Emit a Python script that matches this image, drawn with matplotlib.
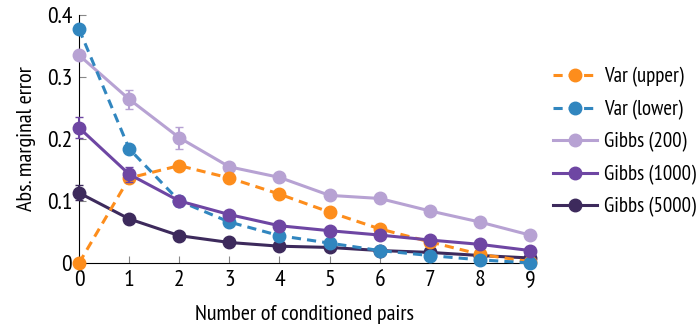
import matplotlib
matplotlib.use("Agg")
import matplotlib.pyplot as plt
from matplotlib.container import ErrorbarContainer
import numpy as np

plt.rcParams['font.family'] = ['PT Sans Narrow', 'DejaVu Sans']

x = np.arange(10)
var_upper = [0.0, 0.137, 0.157, 0.137, 0.111, 0.082, 0.055, 0.034, 0.014, 0.002]
var_lower = [0.377, 0.184, 0.100, 0.066, 0.044, 0.032, 0.020, 0.012, 0.005, 0.000]
gibbs200 = [0.335, 0.264, 0.202, 0.155, 0.138, 0.109, 0.104, 0.084, 0.066, 0.045]
gibbs200_err = [0.006, 0.015, 0.018, 0.006, 0.004, 0.003, 0.003, 0.003, 0.003, 0.003]
gibbs1000 = [0.218, 0.143, 0.100, 0.078, 0.060, 0.052, 0.045, 0.037, 0.030, 0.020]
gibbs1000_err = [0.017, 0.012, 0.008, 0.004, 0.003, 0.002, 0.002, 0.002, 0.002, 0.002]
gibbs5000 = [0.113, 0.071, 0.044, 0.033, 0.027, 0.025, 0.020, 0.017, 0.012, 0.008]
gibbs5000_err = [0.012, 0.004, 0.003, 0.002, 0.002, 0.002, 0.002, 0.002, 0.002, 0.002]

c_orange = '#fd8d1c'
c_blue = '#3186bf'
c_light = '#b7a2d3'
c_mid = '#6e46a3'
c_dark = '#3d2a5c'

fig = plt.figure(figsize=(7, 3.32), dpi=100)
ax = fig.add_axes([0.113, 0.208, 0.644, 0.747])

lw = 2.2
ms = 9
ax.errorbar(x, gibbs200, yerr=gibbs200_err, color=c_light, lw=lw, marker='o', ms=ms,
            capsize=3, elinewidth=1.5, label='Gibbs (200)', clip_on=False, zorder=3)
ax.errorbar(x, gibbs5000, yerr=gibbs5000_err, color=c_dark, lw=lw, marker='o', ms=ms,
            capsize=3, elinewidth=1.5, label='Gibbs (5000)', clip_on=False, zorder=3)
ax.plot(x, var_upper, color=c_orange, lw=lw, ls=(0, (3, 2)), marker='o', ms=ms,
        label='Var (upper)', clip_on=False, zorder=4)
ax.plot(x, var_lower, color=c_blue, lw=lw, ls=(0, (3, 2)), marker='o', ms=ms,
        label='Var (lower)', clip_on=False, zorder=4)
ax.errorbar(x, gibbs1000, yerr=gibbs1000_err, color=c_mid, lw=lw, marker='o', ms=ms,
            capsize=3, elinewidth=1.5, label='Gibbs (1000)', clip_on=False, zorder=5)

ax.set_xlim(0, 9)
ax.set_ylim(0, 0.4)
ax.set_xticks(range(10))
ax.set_yticks([0, 0.1, 0.2, 0.3, 0.4])
ax.set_yticklabels(['0', '0.1', '0.2', '0.3', '0.4'])
ax.tick_params(direction='in', labelsize=17, length=5, color='#888888', pad=5)
for s in ['top', 'right']:
    ax.spines[s].set_visible(False)
ax.set_xlabel('Number of conditioned pairs', fontsize=16, labelpad=10)
ax.set_ylabel('Abs. marginal error', fontsize=16, labelpad=8)

handles, labels = ax.get_legend_handles_labels()
order = ['Var (upper)', 'Var (lower)', 'Gibbs (200)', 'Gibbs (1000)', 'Gibbs (5000)']
hmap = {}
for h, l in zip(handles, labels):
    hmap[l] = h[0] if isinstance(h, ErrorbarContainer) else h
ax.legend([hmap[k] for k in order], order, loc='upper left', bbox_to_anchor=(1.01, 0.865),
          frameon=False, fontsize=15, handlelength=2.1, labelspacing=0.6, handletextpad=0.35)

fig.savefig('out.png', dpi=100)
